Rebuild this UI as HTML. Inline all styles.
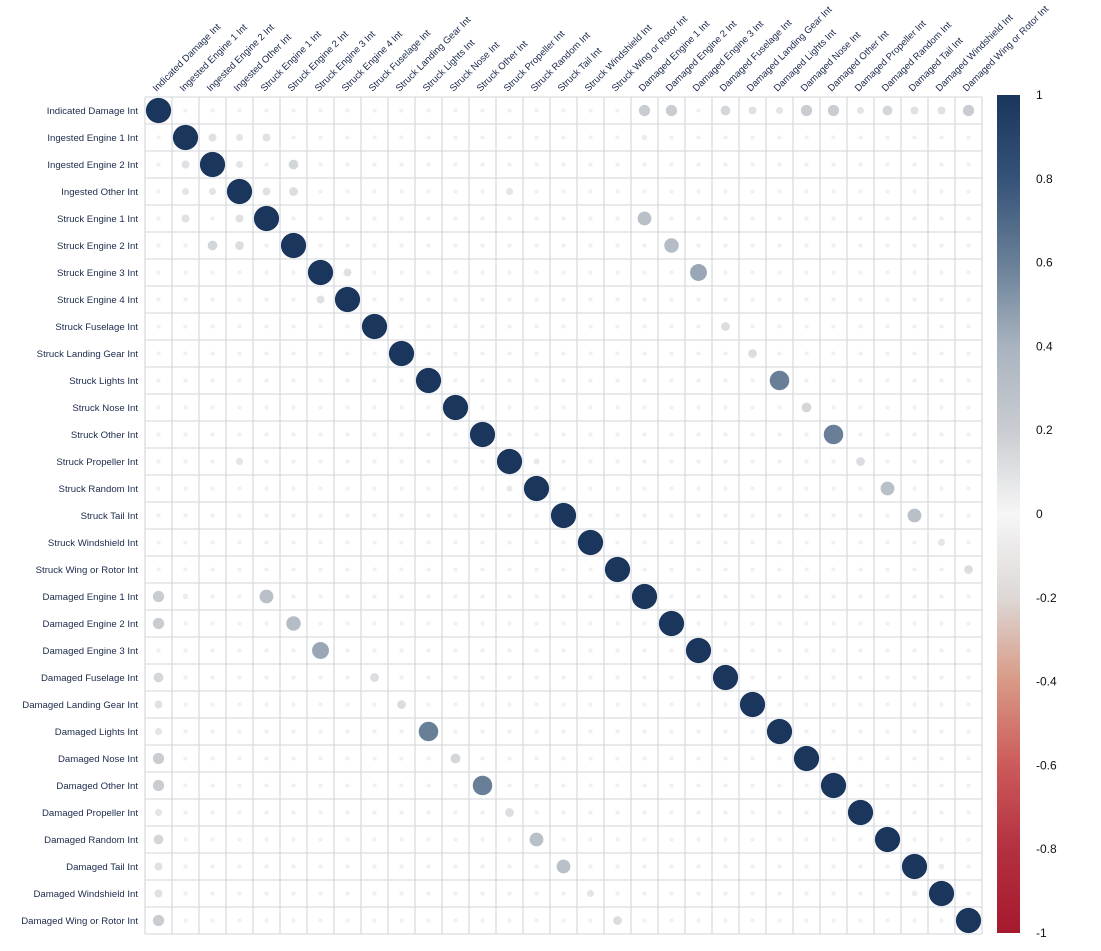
<!DOCTYPE html>
<html><head><meta charset="utf-8"><style>
body{margin:0;background:#fff;}
svg{display:block;font-family:"Liberation Sans",Arial,sans-serif;}
</style></head><body>
<svg id="chart" width="1101" height="951" viewBox="0 0 1101 951"></svg>
<script>
const variables = ["Indicated Damage Int","Ingested Engine 1 Int","Ingested Engine 2 Int","Ingested Other Int","Struck Engine 1 Int","Struck Engine 2 Int","Struck Engine 3 Int","Struck Engine 4 Int","Struck Fuselage Int","Struck Landing Gear Int","Struck Lights Int","Struck Nose Int","Struck Other Int","Struck Propeller Int","Struck Random Int","Struck Tail Int","Struck Windshield Int","Struck Wing or Rotor Int","Damaged Engine 1 Int","Damaged Engine 2 Int","Damaged Engine 3 Int","Damaged Fuselage Int","Damaged Landing Gear Int","Damaged Lights Int","Damaged Nose Int","Damaged Other Int","Damaged Propeller Int","Damaged Random Int","Damaged Tail Int","Damaged Windshield Int","Damaged Wing or Rotor Int"];
const pairRows = [0,0,0,0,0,0,0,0,0,0,0,0,1,1,1,2,2,3,3,6,3,4,5,6,8,9,10,11,12,13,14,15,16,17,1,13,28];
const pairCols = [18,19,21,22,23,24,25,26,27,28,29,30,2,3,4,5,3,4,5,7,13,18,19,20,21,22,23,24,25,26,27,28,29,30,18,14,29];
const pairValues = [0.2,0.2,0.15,0.1,0.08,0.2,0.2,0.08,0.15,0.1,0.1,0.2,0.1,0.08,0.1,0.15,0.08,0.1,0.12,0.1,0.08,0.3,0.33,0.45,0.12,0.12,0.6,0.15,0.6,0.12,0.3,0.3,0.08,0.12,0.05,0.06,0.05];
const baseValue = 0.03;
const colorTicks = ["1","0.8","0.6","0.4","0.2","0","-0.2","-0.4","-0.6","-0.8","-1"];

const NS="http://www.w3.org/2000/svg";
const svg=document.getElementById('chart');
const n=variables.length, x0=145, y0=97, cell=27;
const N=n*cell;
function mk(t,a,p){const e=document.createElementNS(NS,t);for(const k in a)e.setAttribute(k,a[k]);(p||svg).appendChild(e);return e;}
function xPos(j){return x0+j*cell+cell/2;}
function yPos(i){return y0+i*cell+cell/2;}
const stops=[[-1,[166,25,46]],[-0.8,[179,48,64]],[-0.6,[204,90,90]],[-0.4,[216,153,133]],[-0.2,[221,216,214]],[0,[246,246,246]],[0.2,[201,204,209]],[0.4,[169,179,191]],[0.6,[104,127,151]],[0.8,[53,82,120]],[1,[27,54,93]]];
function color(v){for(let k=0;k<stops.length-1;k++){const a=stops[k],b=stops[k+1];if(v<=b[0]){const t=(v-a[0])/(b[0]-a[0]);const c=a[1].map((q,m)=>Math.round(q+(b[1][m]-q)*t));return `rgb(${c})`;}}return 'rgb(27,54,93)';}

const M=[];for(let i=0;i<n;i++){M.push([]);for(let j=0;j<n;j++)M[i].push(i===j?1:baseValue);}
pairRows.forEach((r,k)=>{const c=pairCols[k];M[r][c]=pairValues[k];M[c][r]=pairValues[k];});

const grid=mk('g',{});


for(let k=0;k<=n;k++){
  mk('line',{x1:x0+k*cell,y1:y0,x2:x0+k*cell,y2:y0+N,stroke:'#d3d6da','stroke-width':1.1},grid);
  mk('line',{x1:x0,y1:y0+k*cell,x2:x0+N,y2:y0+k*cell,stroke:'#d3d6da','stroke-width':1.1},grid);
}
for(let i=0;i<n;i++)for(let j=0;j<n;j++){
  const v=M[i][j];
  const c=mk('circle',{cx:xPos(j),cy:yPos(i),r:Math.sqrt(Math.abs(v))*12.6,fill:color(v)});
  
  
}
variables.forEach((name,i)=>{
  const t=mk('text',{x:138,y:yPos(i)+3.5,'text-anchor':'end','font-size':9.6,fill:'#1b2a4a'});
  t.textContent=name;
  
  
  const c=mk('text',{x:xPos(i)-2,y:y0-5,'font-size':9.6,fill:'#1b2a4a',transform:`rotate(-45 ${xPos(i)-2} ${y0-5})`});
  c.textContent=name;
  
  
});
const cbX=997,cbW=23,cbTop=95,cbBot=933;
const defs=mk('defs',{});
const grad=mk('linearGradient',{id:'cb',x1:0,y1:1,x2:0,y2:0},defs);
stops.forEach(s=>mk('stop',{offset:(s[0]+1)/2,'stop-color':color(s[0])},grad));
const cb=mk('rect',{x:cbX,y:cbTop,width:cbW,height:cbBot-cbTop,fill:'url(#cb)'});


colorTicks.forEach((lab,k)=>{
  const y=cbTop+k*(cbBot-cbTop)/(colorTicks.length-1);
  const t=mk('text',{x:1036,y:y+4,'font-size':12,fill:'#111'});
  t.textContent=lab;
  
  
});
</script>
</body></html>
